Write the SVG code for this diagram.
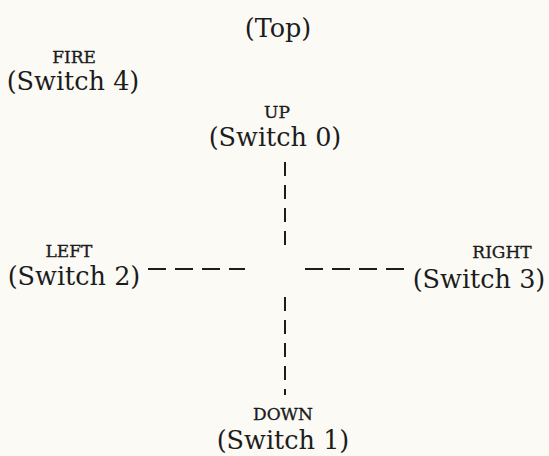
<svg xmlns="http://www.w3.org/2000/svg" width="549" height="456" viewBox="0 0 549 456">
<style>
.bg{fill:#fbfaf5}
.big{font-family:"DejaVu Serif","Liberation Serif",serif;font-size:25.5px;fill:#1c1c1c;text-anchor:middle}
.cap{font-family:"DejaVu Serif","Liberation Serif",serif;font-size:17px;fill:#1c1c1c;stroke:#1c1c1c;stroke-width:0.35;text-anchor:middle}
.dash{stroke:#1c1c1c;stroke-width:2;fill:none}
</style>
<rect class="bg" x="0" y="0" width="549" height="456"/>
<g id="top"><text class="big" x="278" y="37">(Top)</text></g>
<g id="fire"><text class="cap" x="74" y="63">FIRE</text><text class="big" x="73" y="90">(Switch 4)</text></g>
<g id="up"><text class="cap" x="277" y="118">UP</text><text class="big" x="275" y="146">(Switch 0)</text></g>
<g id="left"><text class="cap" x="69" y="257">LEFT</text><text class="big" x="74" y="285">(Switch 2)</text></g>
<g id="right"><text class="cap" x="502" y="258">RIGHT</text><text class="big" x="479" y="288">(Switch 3)</text></g>
<g id="down"><text class="cap" x="283" y="420">DOWN</text><text class="big" x="283" y="449">(Switch 1)</text></g>
<g id="connectors">
<line class="dash" x1="285" y1="162" x2="285" y2="245" stroke-dasharray="14 9"/>
<line class="dash" x1="285" y1="297" x2="285" y2="395" stroke-dasharray="14 9"/>
<line class="dash" x1="148" y1="269" x2="245" y2="269" stroke-dasharray="18 9"/>
<line class="dash" x1="305" y1="269" x2="405" y2="269" stroke-dasharray="18 9"/>
</g>
</svg>
